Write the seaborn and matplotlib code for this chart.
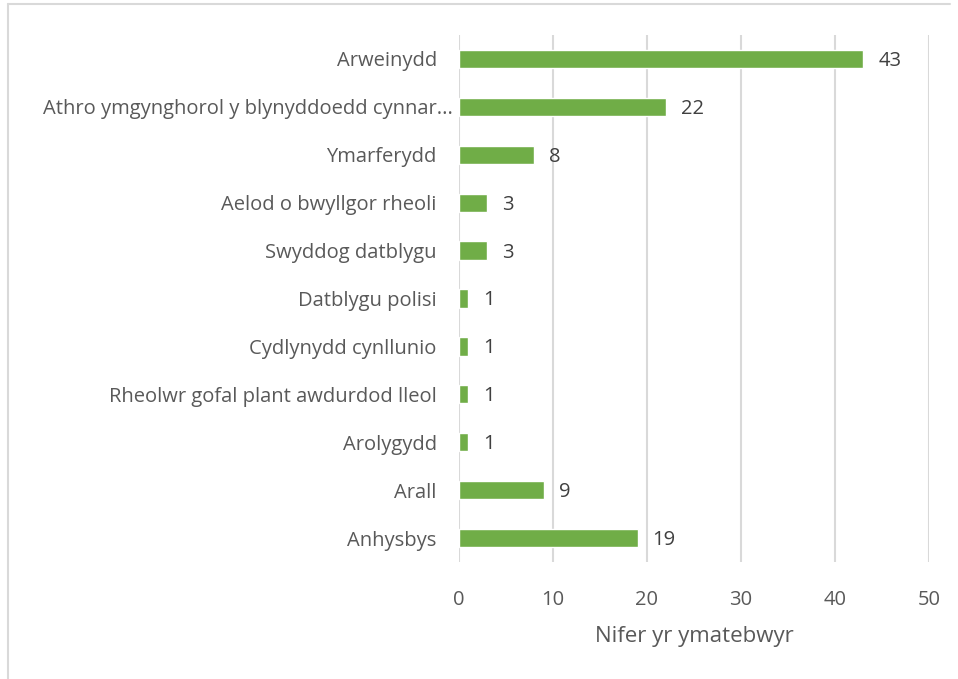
import matplotlib
matplotlib.use('Agg')
import matplotlib.pyplot as plt
import matplotlib.transforms as mtransforms
import seaborn as sns
import pandas as pd
from matplotlib.lines import Line2D

# data
roles = ['Arweinydd', 'Athro ymgynghorol y blynyddoedd cynnar...', 'Ymarferydd',
         'Aelod o bwyllgor rheoli', 'Swyddog datblygu', 'Datblygu polisi',
         'Cydlynydd cynllunio', 'Rheolwr gofal plant awdurdod lleol',
         'Arolygydd', 'Arall', 'Anhysbys']
counts = [43, 22, 8, 3, 3, 1, 1, 1, 1, 9, 19]
x_ticks = [0, 10, 20, 30, 40, 50]
x_label = 'Nifer yr ymatebwyr'

df = pd.DataFrame({'role': roles, 'count': counts})

sns.set_style('white')
plt.rcParams['font.family'] = ['Open Sans', 'DejaVu Sans']
text_col = '#595959'
grid_col = '#D9D9D9'

fig = plt.figure(figsize=(9.58, 6.79), dpi=100)
ax = fig.add_axes([459 / 958, 1 - 562 / 679, 470 / 958, 527 / 679])

sns.barplot(data=df, y='role', x='count', orient='h', color='#70AD47',
            width=0.38, ax=ax, zorder=3, saturation=1)

for i, v in enumerate(counts):
    ax.text(v + 1.6, i + 0.04, str(v), va='center', ha='left',
            fontsize=14.5, color='#404040')

ax.set_xlim(0, 50)
ax.set_ylim(len(roles) - 0.5, -0.5)
ax.set_xticks(x_ticks)
ax.set_xticklabels([str(t) for t in x_ticks])
ax.grid(axis='x', color=grid_col, linewidth=1.5, zorder=0)
for s in ax.spines.values():
    s.set_visible(False)
ax.tick_params(axis='both', length=0, labelsize=14.5, colors=text_col)
ax.tick_params(axis='x', pad=20)
ax.tick_params(axis='y', pad=16)
ax.set_ylabel('')
ax.set_xlabel(x_label, fontsize=16, color=text_col, labelpad=12)

# long truncated label sits closer to the axis
lbl = ax.get_yticklabels()[1]
lbl.set_transform(lbl.get_transform() +
                  mtransforms.ScaledTranslation(16 / 100, 0, fig.dpi_scale_trans))

# chart frame lines (top and left)
fig.add_artist(Line2D([8 / 958, 950 / 958], [1 - 4 / 679, 1 - 4 / 679],
                      transform=fig.transFigure, color='#D9D9D9', linewidth=1.5))
fig.add_artist(Line2D([8 / 958, 8 / 958], [1 - 4 / 679, 0],
                      transform=fig.transFigure, color='#D9D9D9', linewidth=1.5))

fig.savefig('out.png', dpi=100)
